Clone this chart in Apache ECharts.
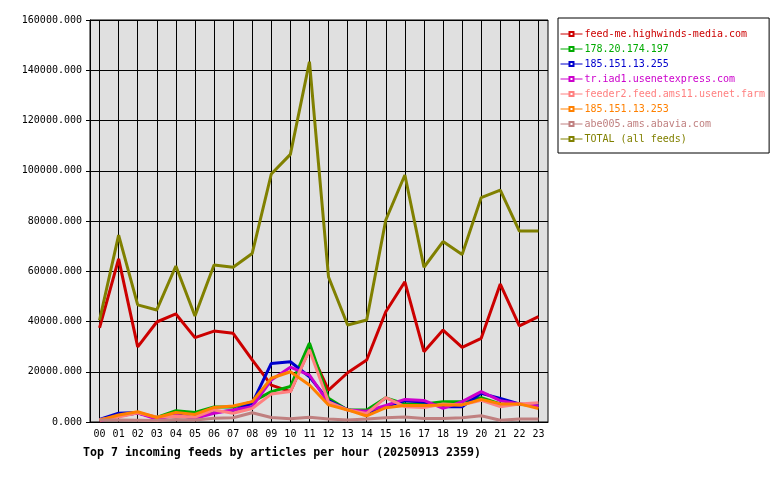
<!DOCTYPE html>
<html>
<head>
<meta charset="utf-8">
<script src="https://cdn.jsdelivr.net/npm/echarts@6/dist/echarts.min.js"></script>
<style>
  html, body { margin: 0; padding: 0; background: #fff; }
  #chart { width: 780px; height: 480px; }
</style>
</head>
<body>
<div id="chart"></div>
<script>
// hours of the day
var hours = ["00","01","02","03","04","05","06","07","08","09","10","11",
             "12","13","14","15","16","17","18","19","20","21","22","23"];

var feedNames = [
  "feed-me.highwinds-media.com",
  "178.20.174.197",
  "185.151.13.255",
  "tr.iad1.usenetexpress.com",
  "feeder2.feed.ams11.usenet.farm",
  "185.151.13.253",
  "abe005.ams.abavia.com",
  "TOTAL (all feeds)"
];
var feedColors = ["#cc0000", "#00aa00", "#0000cc", "#cc00cc", "#ff8080", "#ff8000", "#c08080", "#808000"];

// articles per hour
var highwinds = [37500, 64900, 29900, 39800, 43000, 33600, 36200, 35300, 24700, 14700, 12100, 29000,
                 12700, 19600, 24700, 43900, 55800, 28000, 36600, 29700, 33300, 54900, 38300, 41900];
var ip178     = [800, 2500, 3600, 1800, 4500, 3800, 6000, 6000, 8000, 12100, 14100, 31400,
                 9400, 4800, 4800, 9600, 7200, 7200, 8100, 8100, 9700, 7200, 7000, 6800];
var ip255     = [1000, 3500, 3800, 1500, 3000, 1500, 4000, 4500, 7400, 23300, 24000, 18000,
                 8500, 4800, 3700, 6100, 8500, 8000, 6100, 6100, 11400, 9400, 7200, 6600];
var iad1      = [500, 2400, 3600, 1200, 2700, 1500, 3500, 4800, 6100, 16700, 21800, 18700,
                 7500, 4800, 4300, 6600, 9000, 8600, 5400, 8100, 12100, 8500, 7200, 6300];
var ams11     = [1000, 2000, 3700, 2000, 2300, 2000, 4800, 3500, 5400, 11100, 12100, 28700,
                 8000, 4800, 3400, 9700, 6100, 5800, 7200, 6800, 8600, 6100, 7200, 7700];
var ip253     = [700, 2800, 4100, 1800, 3800, 3000, 5800, 6400, 8100, 17400, 20000, 14700,
                 6800, 4800, 2400, 5700, 6600, 6600, 6800, 6800, 9000, 7200, 7200, 5400];
var abavia    = [800, 800, 700, 600, 1000, 800, 1500, 1700, 3700, 1800, 1300, 1900,
                 1200, 800, 1200, 1700, 2000, 1400, 1400, 1700, 2500, 700, 1200, 1200];
var total     = [40500, 74400, 46600, 44600, 62100, 42200, 62500, 61600, 67100, 98700, 106500, 143400,
                 57700, 38600, 40600, 80400, 98300, 61600, 71800, 66700, 89300, 92300, 76000, 76000];

var feedValues = [highwinds, ip178, ip255, iad1, ams11, ip253, abavia, total];

var chartDom = document.getElementById("chart");
var myChart = echarts.init(chartDom);
var mono = "DejaVu Sans Mono";

var series = feedNames.map(function (name, i) {
  return {
    name: name,
    type: "line",
    data: feedValues[i],
    symbol: "emptyRect",
    symbolSize: 4,
    showSymbol: false,
    animation: false,
    color: feedColors[i],
    lineStyle: { width: 3, color: feedColors[i] }
  };
});

var option = {
  animation: false,
  backgroundColor: "#ffffff",
  title: {
    text: "Top 7 incoming feeds by articles per hour (20250913 2359)",
    left: 78,
    top: 442,
    textStyle: { fontFamily: mono, fontSize: 11.6, fontWeight: "bold", color: "#000" }
  },
  legend: {
    orient: "vertical",
    left: 558,
    top: 18,
    width: 212,
    padding: [10, 4, 8, 2],
    itemGap: 3,
    itemWidth: 22,
    itemHeight: 5,
    backgroundColor: "#ffffff",
    borderColor: "#000000",
    borderWidth: 1,
    lineStyle: { width: 1 },
    data: feedNames.map(function (name, i) {
      return { name: name, textStyle: { color: feedColors[i] } };
    }),
    textStyle: { fontFamily: mono, fontSize: 10, lineHeight: 12, padding: [0, 0, 0, -3] }
  },
  grid: {
    left: 90,
    right: 232,
    top: 20,
    bottom: 58,
    show: true,
    backgroundColor: "#e0e0e0",
    borderColor: "#000",
    borderWidth: 1
  },
  xAxis: {
    type: "category",
    data: hours,
    boundaryGap: true,
    axisLine: { lineStyle: { color: "#000" } },
    axisTick: { alignWithLabel: true, length: 5, lineStyle: { color: "#000" } },
    splitLine: { show: true, alignWithLabel: true, lineStyle: { color: "#000", width: 1 } },
    axisLabel: { fontFamily: mono, fontSize: 10, color: "#000", margin: 7, interval: 0 }
  },
  yAxis: {
    type: "value",
    min: 0,
    max: 160000,
    interval: 20000,
    axisLine: { show: true, lineStyle: { color: "#000" } },
    axisTick: { show: true, length: 4, lineStyle: { color: "#000" } },
    splitLine: { show: true, lineStyle: { color: "#000", width: 1 } },
    axisLabel: {
      fontFamily: mono,
      fontSize: 10,
      color: "#000",
      margin: 8,
      formatter: function (v) { return v.toFixed(3); }
    }
  },
  series: series
};

option && myChart.setOption(option);
</script>
</body>
</html>
